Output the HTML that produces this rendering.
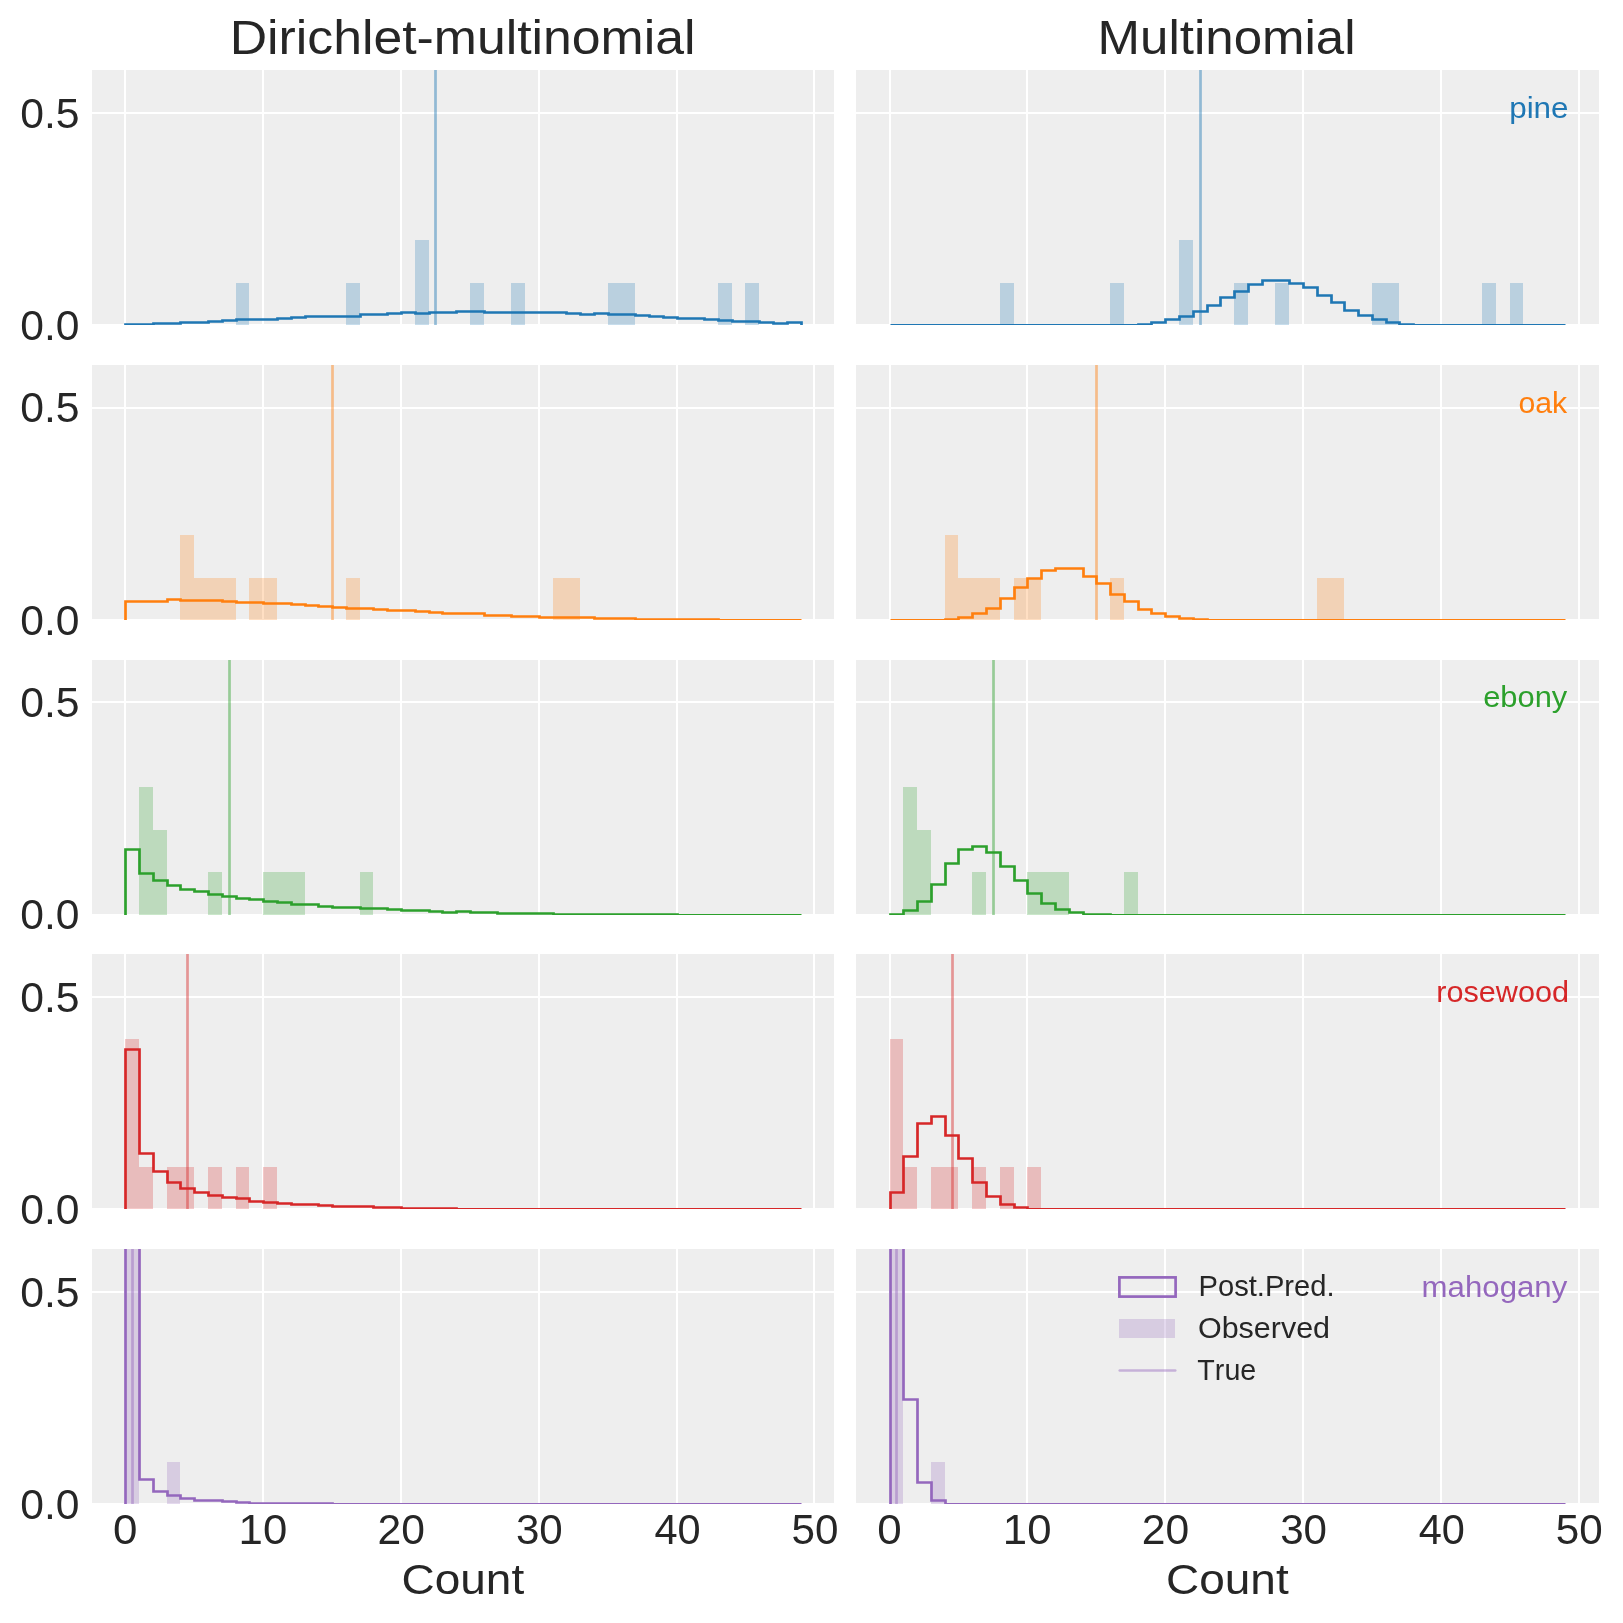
<!DOCTYPE html><html><head><meta charset="utf-8"><style>html,body{margin:0;padding:0;background:#fff;}svg{display:block;will-change:transform;font-family:"Liberation Sans",sans-serif;font-kerning:none;}</style></head><body>
<svg width="1623" height="1623" viewBox="0 0 1623 1623">
<rect x="0" y="0" width="1623" height="1623" fill="#ffffff"/>
<defs>
<clipPath id="c00"><rect x="92" y="70" width="742" height="255"/></clipPath>
<clipPath id="c01"><rect x="856" y="70" width="743" height="255"/></clipPath>
<clipPath id="c10"><rect x="92" y="365" width="742" height="255"/></clipPath>
<clipPath id="c11"><rect x="856" y="365" width="743" height="255"/></clipPath>
<clipPath id="c20"><rect x="92" y="660" width="742" height="255"/></clipPath>
<clipPath id="c21"><rect x="856" y="660" width="743" height="255"/></clipPath>
<clipPath id="c30"><rect x="92" y="954" width="742" height="255"/></clipPath>
<clipPath id="c31"><rect x="856" y="954" width="743" height="255"/></clipPath>
<clipPath id="c40"><rect x="92" y="1249" width="742" height="255"/></clipPath>
<clipPath id="c41"><rect x="856" y="1249" width="743" height="255"/></clipPath>
</defs>
<g clip-path="url(#c00)">
<rect x="92" y="70" width="742" height="254" fill="#eeeeee"/>
<path d="M125 70V324M263 70V324M401 70V324M539 70V324M677 70V324M814 70V324M92 113H834" stroke="#ffffff" stroke-width="2" fill="none"/>
<rect x="236" y="283" width="13" height="42" fill="#1f77b4" fill-opacity="0.25"/>
<rect x="346" y="283" width="14" height="42" fill="#1f77b4" fill-opacity="0.25"/>
<rect x="415" y="240" width="14" height="85" fill="#1f77b4" fill-opacity="0.25"/>
<rect x="470" y="283" width="14" height="42" fill="#1f77b4" fill-opacity="0.25"/>
<rect x="511" y="283" width="14" height="42" fill="#1f77b4" fill-opacity="0.25"/>
<rect x="608" y="283" width="13" height="42" fill="#1f77b4" fill-opacity="0.25"/>
<rect x="621" y="283" width="14" height="42" fill="#1f77b4" fill-opacity="0.25"/>
<rect x="718" y="283" width="14" height="42" fill="#1f77b4" fill-opacity="0.25"/>
<rect x="745" y="283" width="14" height="42" fill="#1f77b4" fill-opacity="0.25"/>
<path d="M125.5 325.46V324.5H139.5V324.5H153.5V323.5H167.5V323.5H180.5V322.5H194.5V322.5H208.5V321.5H222.5V320.5H236.5V319.5H249.5V319.5H263.5V319.5H277.5V318.5H291.5V317.5H305.5V316.5H318.5V316.5H332.5V316.5H346.5V316.5H360.5V314.5H373.5V314.5H387.5V313.5H401.5V312.5H415.5V313.5H429.5V312.5H442.5V312.5H456.5V311.5H470.5V311.5H484.5V312.5H497.5V312.5H511.5V312.5H525.5V312.5H539.5V312.5H553.5V312.5H566.5V313.5H580.5V314.5H594.5V313.5H608.5V314.5H621.5V314.5H635.5V315.5H649.5V316.5H663.5V317.5H677.5V318.5H690.5V318.5H704.5V319.5H718.5V320.5H732.5V321.5H745.5V321.5H759.5V322.5H773.5V323.5H787.5V322.5H801.5V325.46" stroke="#1f77b4" stroke-width="2.7" fill="none" stroke-linejoin="miter"/>
<path d="M435.5 68V326" stroke="#1f77b4" stroke-opacity="0.45" stroke-width="2.7"/>
</g>
<g clip-path="url(#c01)">
<rect x="856" y="70" width="743" height="254" fill="#eeeeee"/>
<path d="M890 70V324M1027 70V324M1165 70V324M1303 70V324M1441 70V324M1579 70V324M856 113H1599" stroke="#ffffff" stroke-width="2" fill="none"/>
<rect x="1000" y="283" width="14" height="42" fill="#1f77b4" fill-opacity="0.25"/>
<rect x="1110" y="283" width="14" height="42" fill="#1f77b4" fill-opacity="0.25"/>
<rect x="1179" y="240" width="14" height="85" fill="#1f77b4" fill-opacity="0.25"/>
<rect x="1234" y="283" width="14" height="42" fill="#1f77b4" fill-opacity="0.25"/>
<rect x="1275" y="283" width="14" height="42" fill="#1f77b4" fill-opacity="0.25"/>
<rect x="1372" y="283" width="14" height="42" fill="#1f77b4" fill-opacity="0.25"/>
<rect x="1386" y="283" width="13" height="42" fill="#1f77b4" fill-opacity="0.25"/>
<rect x="1482" y="283" width="14" height="42" fill="#1f77b4" fill-opacity="0.25"/>
<rect x="1510" y="283" width="13" height="42" fill="#1f77b4" fill-opacity="0.25"/>
<path d="M890.5 325.46V325.46H903.5V325.46H917.5V325.46H931.5V325.46H945.5V325.46H958.5V325.46H972.5V325.46H986.5V325.46H1000.5V325.46H1014.5V325.46H1027.5V325.46H1041.5V325.46H1055.5V325.46H1069.5V325.46H1083.5V325.46H1096.5V325.46H1110.5V325.46H1124.5V325.46H1138.5V324.5H1151.5V322.5H1165.5V319.5H1179.5V316.5H1193.5V311.5H1207.5V305.5H1220.5V297.5H1234.5V291.5H1248.5V284.5H1262.5V280.5H1275.5V280.5H1289.5V283.5H1303.5V287.5H1317.5V295.5H1331.5V302.5H1344.5V310.5H1358.5V315.5H1372.5V319.5H1386.5V322.5H1399.5V324.5H1413.5V325.46H1427.5V325.46H1441.5V325.46H1455.5V325.46H1468.5V325.46H1482.5V325.46H1496.5V325.46H1510.5V325.46H1523.5V325.46H1537.5V325.46H1551.5V325.46H1565.5V325.46" stroke="#1f77b4" stroke-width="2.7" fill="none" stroke-linejoin="miter"/>
<path d="M1200.5 68V326" stroke="#1f77b4" stroke-opacity="0.45" stroke-width="2.7"/>
</g>
<g clip-path="url(#c10)">
<rect x="92" y="365" width="742" height="254" fill="#eeeeee"/>
<path d="M125 365V619M263 365V619M401 365V619M539 365V619M677 365V619M814 365V619M92 408H834" stroke="#ffffff" stroke-width="2" fill="none"/>
<rect x="180" y="535" width="14" height="85" fill="#ff7f0e" fill-opacity="0.25"/>
<rect x="194" y="578" width="14" height="42" fill="#ff7f0e" fill-opacity="0.25"/>
<rect x="208" y="578" width="14" height="42" fill="#ff7f0e" fill-opacity="0.25"/>
<rect x="222" y="578" width="14" height="42" fill="#ff7f0e" fill-opacity="0.25"/>
<rect x="249" y="578" width="14" height="42" fill="#ff7f0e" fill-opacity="0.25"/>
<rect x="263" y="578" width="14" height="42" fill="#ff7f0e" fill-opacity="0.25"/>
<rect x="346" y="578" width="14" height="42" fill="#ff7f0e" fill-opacity="0.25"/>
<rect x="553" y="578" width="13" height="42" fill="#ff7f0e" fill-opacity="0.25"/>
<rect x="566" y="578" width="14" height="42" fill="#ff7f0e" fill-opacity="0.25"/>
<path d="M125.5 620.46V601.5H139.5V601.5H153.5V601.5H167.5V599.5H180.5V600.5H194.5V600.5H208.5V600.5H222.5V601.5H236.5V602.5H249.5V602.5H263.5V603.5H277.5V603.5H291.5V604.5H305.5V605.5H318.5V606.5H332.5V607.5H346.5V608.5H360.5V608.5H373.5V609.5H387.5V610.5H401.5V610.5H415.5V611.5H429.5V612.5H442.5V613.5H456.5V613.5H470.5V613.5H484.5V615.5H497.5V615.5H511.5V616.5H525.5V616.5H539.5V617.5H553.5V617.5H566.5V617.5H580.5V617.5H594.5V618.5H608.5V618.5H621.5V618.5H635.5V619.5H649.5V619.5H663.5V619.5H677.5V619.5H690.5V619.5H704.5V619.5H718.5V620.46H732.5V620.46H745.5V620.46H759.5V620.46H773.5V620.46H787.5V620.46H801.5V620.46" stroke="#ff7f0e" stroke-width="2.7" fill="none" stroke-linejoin="miter"/>
<path d="M332.5 363V621" stroke="#ff7f0e" stroke-opacity="0.45" stroke-width="2.7"/>
</g>
<g clip-path="url(#c11)">
<rect x="856" y="365" width="743" height="254" fill="#eeeeee"/>
<path d="M890 365V619M1027 365V619M1165 365V619M1303 365V619M1441 365V619M1579 365V619M856 408H1599" stroke="#ffffff" stroke-width="2" fill="none"/>
<rect x="945" y="535" width="13" height="85" fill="#ff7f0e" fill-opacity="0.25"/>
<rect x="958" y="578" width="14" height="42" fill="#ff7f0e" fill-opacity="0.25"/>
<rect x="972" y="578" width="14" height="42" fill="#ff7f0e" fill-opacity="0.25"/>
<rect x="986" y="578" width="14" height="42" fill="#ff7f0e" fill-opacity="0.25"/>
<rect x="1014" y="578" width="13" height="42" fill="#ff7f0e" fill-opacity="0.25"/>
<rect x="1027" y="578" width="14" height="42" fill="#ff7f0e" fill-opacity="0.25"/>
<rect x="1110" y="578" width="14" height="42" fill="#ff7f0e" fill-opacity="0.25"/>
<rect x="1317" y="578" width="14" height="42" fill="#ff7f0e" fill-opacity="0.25"/>
<rect x="1331" y="578" width="13" height="42" fill="#ff7f0e" fill-opacity="0.25"/>
<path d="M890.5 620.46V620.46H903.5V620.46H917.5V620.46H931.5V620.46H945.5V619.5H958.5V617.5H972.5V613.5H986.5V608.5H1000.5V598.5H1014.5V587.5H1027.5V578.5H1041.5V570.5H1055.5V568.5H1069.5V568.5H1083.5V576.5H1096.5V583.5H1110.5V594.5H1124.5V601.5H1138.5V609.5H1151.5V613.5H1165.5V616.5H1179.5V618.5H1193.5V619.5H1207.5V620.46H1220.5V620.46H1234.5V620.46H1248.5V620.46H1262.5V620.46H1275.5V620.46H1289.5V620.46H1303.5V620.46H1317.5V620.46H1331.5V620.46H1344.5V620.46H1358.5V620.46H1372.5V620.46H1386.5V620.46H1399.5V620.46H1413.5V620.46H1427.5V620.46H1441.5V620.46H1455.5V620.46H1468.5V620.46H1482.5V620.46H1496.5V620.46H1510.5V620.46H1523.5V620.46H1537.5V620.46H1551.5V620.46H1565.5V620.46" stroke="#ff7f0e" stroke-width="2.7" fill="none" stroke-linejoin="miter"/>
<path d="M1096.5 363V621" stroke="#ff7f0e" stroke-opacity="0.45" stroke-width="2.7"/>
</g>
<g clip-path="url(#c20)">
<rect x="92" y="660" width="742" height="254" fill="#eeeeee"/>
<path d="M125 660V914M263 660V914M401 660V914M539 660V914M677 660V914M814 660V914M92 702H834" stroke="#ffffff" stroke-width="2" fill="none"/>
<rect x="139" y="787" width="14" height="128" fill="#2ca02c" fill-opacity="0.25"/>
<rect x="153" y="830" width="14" height="85" fill="#2ca02c" fill-opacity="0.25"/>
<rect x="208" y="872" width="14" height="43" fill="#2ca02c" fill-opacity="0.25"/>
<rect x="263" y="872" width="14" height="43" fill="#2ca02c" fill-opacity="0.25"/>
<rect x="277" y="872" width="14" height="43" fill="#2ca02c" fill-opacity="0.25"/>
<rect x="291" y="872" width="14" height="43" fill="#2ca02c" fill-opacity="0.25"/>
<rect x="360" y="872" width="13" height="43" fill="#2ca02c" fill-opacity="0.25"/>
<path d="M125.5 915.46V849.5H139.5V873.5H153.5V880.5H167.5V885.5H180.5V889.5H194.5V891.5H208.5V894.5H222.5V896.5H236.5V898.5H249.5V899.5H263.5V901.5H277.5V902.5H291.5V904.5H305.5V904.5H318.5V906.5H332.5V907.5H346.5V907.5H360.5V908.5H373.5V908.5H387.5V909.5H401.5V910.5H415.5V910.5H429.5V911.5H442.5V912.5H456.5V911.5H470.5V912.5H484.5V912.5H497.5V913.5H511.5V913.5H525.5V913.5H539.5V913.5H553.5V914.5H566.5V914.5H580.5V914.5H594.5V914.5H608.5V914.5H621.5V914.5H635.5V914.5H649.5V914.5H663.5V914.5H677.5V915.46H690.5V915.46H704.5V915.46H718.5V915.46H732.5V915.46H745.5V915.46H759.5V915.46H773.5V915.46H787.5V915.46H801.5V915.46" stroke="#2ca02c" stroke-width="2.7" fill="none" stroke-linejoin="miter"/>
<path d="M229.5 658V916" stroke="#2ca02c" stroke-opacity="0.45" stroke-width="2.7"/>
</g>
<g clip-path="url(#c21)">
<rect x="856" y="660" width="743" height="254" fill="#eeeeee"/>
<path d="M890 660V914M1027 660V914M1165 660V914M1303 660V914M1441 660V914M1579 660V914M856 702H1599" stroke="#ffffff" stroke-width="2" fill="none"/>
<rect x="903" y="787" width="14" height="128" fill="#2ca02c" fill-opacity="0.25"/>
<rect x="917" y="830" width="14" height="85" fill="#2ca02c" fill-opacity="0.25"/>
<rect x="972" y="872" width="14" height="43" fill="#2ca02c" fill-opacity="0.25"/>
<rect x="1027" y="872" width="14" height="43" fill="#2ca02c" fill-opacity="0.25"/>
<rect x="1041" y="872" width="14" height="43" fill="#2ca02c" fill-opacity="0.25"/>
<rect x="1055" y="872" width="14" height="43" fill="#2ca02c" fill-opacity="0.25"/>
<rect x="1124" y="872" width="14" height="43" fill="#2ca02c" fill-opacity="0.25"/>
<path d="M890.5 915.46V914.5H903.5V910.5H917.5V901.5H931.5V884.5H945.5V863.5H958.5V849.5H972.5V846.5H986.5V852.5H1000.5V866.5H1014.5V880.5H1027.5V893.5H1041.5V903.5H1055.5V909.5H1069.5V912.5H1083.5V914.5H1096.5V914.5H1110.5V915.46H1124.5V915.46H1138.5V915.46H1151.5V915.46H1165.5V915.46H1179.5V915.46H1193.5V915.46H1207.5V915.46H1220.5V915.46H1234.5V915.46H1248.5V915.46H1262.5V915.46H1275.5V915.46H1289.5V915.46H1303.5V915.46H1317.5V915.46H1331.5V915.46H1344.5V915.46H1358.5V915.46H1372.5V915.46H1386.5V915.46H1399.5V915.46H1413.5V915.46H1427.5V915.46H1441.5V915.46H1455.5V915.46H1468.5V915.46H1482.5V915.46H1496.5V915.46H1510.5V915.46H1523.5V915.46H1537.5V915.46H1551.5V915.46H1565.5V915.46" stroke="#2ca02c" stroke-width="2.7" fill="none" stroke-linejoin="miter"/>
<path d="M993.5 658V916" stroke="#2ca02c" stroke-opacity="0.45" stroke-width="2.7"/>
</g>
<g clip-path="url(#c30)">
<rect x="92" y="954" width="742" height="254" fill="#eeeeee"/>
<path d="M125 954V1208M263 954V1208M401 954V1208M539 954V1208M677 954V1208M814 954V1208M92 997H834" stroke="#ffffff" stroke-width="2" fill="none"/>
<rect x="125" y="1039" width="14" height="170" fill="#d62728" fill-opacity="0.25"/>
<rect x="139" y="1167" width="14" height="42" fill="#d62728" fill-opacity="0.25"/>
<rect x="167" y="1167" width="13" height="42" fill="#d62728" fill-opacity="0.25"/>
<rect x="180" y="1167" width="14" height="42" fill="#d62728" fill-opacity="0.25"/>
<rect x="208" y="1167" width="14" height="42" fill="#d62728" fill-opacity="0.25"/>
<rect x="236" y="1167" width="13" height="42" fill="#d62728" fill-opacity="0.25"/>
<rect x="263" y="1167" width="14" height="42" fill="#d62728" fill-opacity="0.25"/>
<path d="M125.5 1209.46V1049.5H139.5V1153.5H153.5V1171.5H167.5V1182.5H180.5V1188.5H194.5V1192.5H208.5V1195.5H222.5V1197.5H236.5V1198.5H249.5V1201.5H263.5V1202.5H277.5V1203.5H291.5V1204.5H305.5V1204.5H318.5V1205.5H332.5V1206.5H346.5V1206.5H360.5V1206.5H373.5V1207.5H387.5V1207.5H401.5V1208.5H415.5V1208.5H429.5V1208.5H442.5V1208.5H456.5V1209.46H470.5V1209.46H484.5V1209.46H497.5V1209.46H511.5V1209.46H525.5V1209.46H539.5V1209.46H553.5V1209.46H566.5V1209.46H580.5V1209.46H594.5V1209.46H608.5V1209.46H621.5V1209.46H635.5V1209.46H649.5V1209.46H663.5V1209.46H677.5V1209.46H690.5V1209.46H704.5V1209.46H718.5V1209.46H732.5V1209.46H745.5V1209.46H759.5V1209.46H773.5V1209.46H787.5V1209.46H801.5V1209.46" stroke="#d62728" stroke-width="2.7" fill="none" stroke-linejoin="miter"/>
<path d="M187.5 952V1210" stroke="#d62728" stroke-opacity="0.45" stroke-width="2.7"/>
</g>
<g clip-path="url(#c31)">
<rect x="856" y="954" width="743" height="254" fill="#eeeeee"/>
<path d="M890 954V1208M1027 954V1208M1165 954V1208M1303 954V1208M1441 954V1208M1579 954V1208M856 997H1599" stroke="#ffffff" stroke-width="2" fill="none"/>
<rect x="890" y="1039" width="13" height="170" fill="#d62728" fill-opacity="0.25"/>
<rect x="903" y="1167" width="14" height="42" fill="#d62728" fill-opacity="0.25"/>
<rect x="931" y="1167" width="14" height="42" fill="#d62728" fill-opacity="0.25"/>
<rect x="945" y="1167" width="13" height="42" fill="#d62728" fill-opacity="0.25"/>
<rect x="972" y="1167" width="14" height="42" fill="#d62728" fill-opacity="0.25"/>
<rect x="1000" y="1167" width="14" height="42" fill="#d62728" fill-opacity="0.25"/>
<rect x="1027" y="1167" width="14" height="42" fill="#d62728" fill-opacity="0.25"/>
<path d="M890.5 1209.46V1192.5H903.5V1156.5H917.5V1123.5H931.5V1116.5H945.5V1135.5H958.5V1158.5H972.5V1182.5H986.5V1196.5H1000.5V1204.5H1014.5V1207.5H1027.5V1209.46H1041.5V1209.46H1055.5V1209.46H1069.5V1209.46H1083.5V1209.46H1096.5V1209.46H1110.5V1209.46H1124.5V1209.46H1138.5V1209.46H1151.5V1209.46H1165.5V1209.46H1179.5V1209.46H1193.5V1209.46H1207.5V1209.46H1220.5V1209.46H1234.5V1209.46H1248.5V1209.46H1262.5V1209.46H1275.5V1209.46H1289.5V1209.46H1303.5V1209.46H1317.5V1209.46H1331.5V1209.46H1344.5V1209.46H1358.5V1209.46H1372.5V1209.46H1386.5V1209.46H1399.5V1209.46H1413.5V1209.46H1427.5V1209.46H1441.5V1209.46H1455.5V1209.46H1468.5V1209.46H1482.5V1209.46H1496.5V1209.46H1510.5V1209.46H1523.5V1209.46H1537.5V1209.46H1551.5V1209.46H1565.5V1209.46" stroke="#d62728" stroke-width="2.7" fill="none" stroke-linejoin="miter"/>
<path d="M952.5 952V1210" stroke="#d62728" stroke-opacity="0.45" stroke-width="2.7"/>
</g>
<g clip-path="url(#c40)">
<rect x="92" y="1249" width="742" height="254" fill="#eeeeee"/>
<path d="M125 1249V1503M263 1249V1503M401 1249V1503M539 1249V1503M677 1249V1503M814 1249V1503M92 1292H834" stroke="#ffffff" stroke-width="2" fill="none"/>
<rect x="125" y="1120" width="14" height="384" fill="#9467bd" fill-opacity="0.25"/>
<rect x="167" y="1462" width="13" height="42" fill="#9467bd" fill-opacity="0.25"/>
<path d="M125.5 1504.46V1103.5H139.5V1479.5H153.5V1491.5H167.5V1495.5H180.5V1498.5H194.5V1500.5H208.5V1500.5H222.5V1501.5H236.5V1502.5H249.5V1503.5H263.5V1503.5H277.5V1503.5H291.5V1503.5H305.5V1503.5H318.5V1503.5H332.5V1504.46H346.5V1504.46H360.5V1504.46H373.5V1504.46H387.5V1504.46H401.5V1504.46H415.5V1504.46H429.5V1504.46H442.5V1504.46H456.5V1504.46H470.5V1504.46H484.5V1504.46H497.5V1504.46H511.5V1504.46H525.5V1504.46H539.5V1504.46H553.5V1504.46H566.5V1504.46H580.5V1504.46H594.5V1504.46H608.5V1504.46H621.5V1504.46H635.5V1504.46H649.5V1504.46H663.5V1504.46H677.5V1504.46H690.5V1504.46H704.5V1504.46H718.5V1504.46H732.5V1504.46H745.5V1504.46H759.5V1504.46H773.5V1504.46H787.5V1504.46H801.5V1504.46" stroke="#9467bd" stroke-width="2.7" fill="none" stroke-linejoin="miter"/>
<path d="M132.5 1247V1505" stroke="#9467bd" stroke-opacity="0.45" stroke-width="2.7"/>
</g>
<g clip-path="url(#c41)">
<rect x="856" y="1249" width="743" height="254" fill="#eeeeee"/>
<path d="M890 1249V1503M1027 1249V1503M1165 1249V1503M1303 1249V1503M1441 1249V1503M1579 1249V1503M856 1292H1599" stroke="#ffffff" stroke-width="2" fill="none"/>
<rect x="890" y="1120" width="13" height="384" fill="#9467bd" fill-opacity="0.25"/>
<rect x="931" y="1462" width="14" height="42" fill="#9467bd" fill-opacity="0.25"/>
<path d="M890.5 1504.46V1103.5H903.5V1399.5H917.5V1482.5H931.5V1500.5H945.5V1504.46H958.5V1504.46H972.5V1504.46H986.5V1504.46H1000.5V1504.46H1014.5V1504.46H1027.5V1504.46H1041.5V1504.46H1055.5V1504.46H1069.5V1504.46H1083.5V1504.46H1096.5V1504.46H1110.5V1504.46H1124.5V1504.46H1138.5V1504.46H1151.5V1504.46H1165.5V1504.46H1179.5V1504.46H1193.5V1504.46H1207.5V1504.46H1220.5V1504.46H1234.5V1504.46H1248.5V1504.46H1262.5V1504.46H1275.5V1504.46H1289.5V1504.46H1303.5V1504.46H1317.5V1504.46H1331.5V1504.46H1344.5V1504.46H1358.5V1504.46H1372.5V1504.46H1386.5V1504.46H1399.5V1504.46H1413.5V1504.46H1427.5V1504.46H1441.5V1504.46H1455.5V1504.46H1468.5V1504.46H1482.5V1504.46H1496.5V1504.46H1510.5V1504.46H1523.5V1504.46H1537.5V1504.46H1551.5V1504.46H1565.5V1504.46" stroke="#9467bd" stroke-width="2.7" fill="none" stroke-linejoin="miter"/>
<path d="M896.5 1247V1505" stroke="#9467bd" stroke-opacity="0.45" stroke-width="2.7"/>
</g>
<text x="229.76" y="54.00" font-size="48" fill="#262626" textLength="465.70" lengthAdjust="spacingAndGlyphs">Dirichlet-multinomial</text>
<text x="1097.62" y="54.00" font-size="48" fill="#262626" textLength="257.89" lengthAdjust="spacingAndGlyphs">Multinomial</text>
<text x="20.23" y="127.60" font-size="42.2" fill="#262626" textLength="59.36" lengthAdjust="spacingAndGlyphs">0.5</text>
<text x="20.24" y="339.75" font-size="42.2" fill="#262626" textLength="59.23" lengthAdjust="spacingAndGlyphs">0.0</text>
<text x="20.23" y="422.40" font-size="42.2" fill="#262626" textLength="59.36" lengthAdjust="spacingAndGlyphs">0.5</text>
<text x="20.24" y="634.55" font-size="42.2" fill="#262626" textLength="59.23" lengthAdjust="spacingAndGlyphs">0.0</text>
<text x="20.23" y="717.20" font-size="42.2" fill="#262626" textLength="59.36" lengthAdjust="spacingAndGlyphs">0.5</text>
<text x="20.24" y="929.35" font-size="42.2" fill="#262626" textLength="59.23" lengthAdjust="spacingAndGlyphs">0.0</text>
<text x="20.23" y="1012.00" font-size="42.2" fill="#262626" textLength="59.36" lengthAdjust="spacingAndGlyphs">0.5</text>
<text x="20.24" y="1224.15" font-size="42.2" fill="#262626" textLength="59.23" lengthAdjust="spacingAndGlyphs">0.0</text>
<text x="20.23" y="1306.80" font-size="42.2" fill="#262626" textLength="59.36" lengthAdjust="spacingAndGlyphs">0.5</text>
<text x="20.24" y="1518.95" font-size="42.2" fill="#262626" textLength="59.23" lengthAdjust="spacingAndGlyphs">0.0</text>
<text x="113.14" y="1544.00" font-size="42.5" fill="#262626" textLength="24.43" lengthAdjust="spacingAndGlyphs">0</text>
<text x="238.63" y="1544.00" font-size="42.5" fill="#262626" textLength="48.64" lengthAdjust="spacingAndGlyphs">10</text>
<text x="377.62" y="1544.00" font-size="42.5" fill="#262626" textLength="47.41" lengthAdjust="spacingAndGlyphs">20</text>
<text x="515.96" y="1544.00" font-size="42.5" fill="#262626" textLength="46.85" lengthAdjust="spacingAndGlyphs">30</text>
<text x="654.41" y="1544.00" font-size="42.5" fill="#262626" textLength="46.17" lengthAdjust="spacingAndGlyphs">40</text>
<text x="791.47" y="1544.00" font-size="42.5" fill="#262626" textLength="46.94" lengthAdjust="spacingAndGlyphs">50</text>
<text x="401.62" y="1594.00" font-size="42.5" fill="#262626" textLength="122.57" lengthAdjust="spacingAndGlyphs">Count</text>
<text x="877.36" y="1544.00" font-size="42.5" fill="#262626" textLength="24.43" lengthAdjust="spacingAndGlyphs">0</text>
<text x="1002.85" y="1544.00" font-size="42.5" fill="#262626" textLength="48.64" lengthAdjust="spacingAndGlyphs">10</text>
<text x="1141.84" y="1544.00" font-size="42.5" fill="#262626" textLength="47.41" lengthAdjust="spacingAndGlyphs">20</text>
<text x="1280.18" y="1544.00" font-size="42.5" fill="#262626" textLength="46.85" lengthAdjust="spacingAndGlyphs">30</text>
<text x="1418.63" y="1544.00" font-size="42.5" fill="#262626" textLength="46.17" lengthAdjust="spacingAndGlyphs">40</text>
<text x="1555.69" y="1544.00" font-size="42.5" fill="#262626" textLength="46.94" lengthAdjust="spacingAndGlyphs">50</text>
<text x="1166.12" y="1594.00" font-size="42.5" fill="#262626" textLength="122.57" lengthAdjust="spacingAndGlyphs">Count</text>
<text x="1509.17" y="117.80" font-size="29.5" fill="#1f77b4" textLength="59.42" lengthAdjust="spacingAndGlyphs">pine</text>
<text x="1518.43" y="412.60" font-size="29.5" fill="#ff7f0e" textLength="48.72" lengthAdjust="spacingAndGlyphs">oak</text>
<text x="1483.19" y="707.40" font-size="29.5" fill="#2ca02c" textLength="84.07" lengthAdjust="spacingAndGlyphs">ebony</text>
<text x="1436.26" y="1002.20" font-size="29.5" fill="#d62728" textLength="132.91" lengthAdjust="spacingAndGlyphs">rosewood</text>
<text x="1421.63" y="1297.00" font-size="29.5" fill="#9467bd" textLength="145.63" lengthAdjust="spacingAndGlyphs">mahogany</text>
<rect x="1119.4" y="1277.4" width="56.2" height="19.2" fill="none" stroke="#9467bd" stroke-width="2.7"/>
<rect x="1119" y="1319" width="56" height="19" fill="#9467bd" fill-opacity="0.25"/>
<path d="M1119.8 1370.5H1175.2" stroke="#9467bd" stroke-opacity="0.45" stroke-width="2.7" stroke-linecap="round"/>
<text x="1198.51" y="1295.70" font-size="29.8" fill="#262626" textLength="136.05" lengthAdjust="spacingAndGlyphs">Post.Pred.</text>
<text x="1197.96" y="1337.65" font-size="29.8" fill="#262626" textLength="132.11" lengthAdjust="spacingAndGlyphs">Observed</text>
<text x="1197.36" y="1379.80" font-size="29.8" fill="#262626" textLength="58.92" lengthAdjust="spacingAndGlyphs">True</text>
</svg></body></html>
